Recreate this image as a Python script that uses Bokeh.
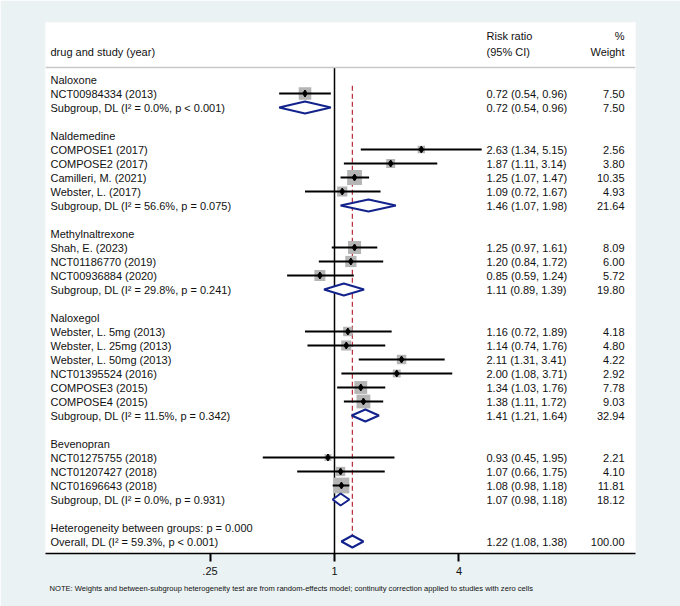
import math
from bokeh.plotting import figure
from bokeh.models import Range1d, Span, Title, FixedTicker, ColumnDataSource
from bokeh.embed import file_html
from bokeh.resources import INLINE
from bokeh.core.properties import value

# ---------------- data ----------------
groups = ["Naloxone", "Naldemedine", "Methylnaltrexone", "Naloxegol", "Bevenopran"]

study_group = [0, 1, 1, 1, 1, 2, 2, 2, 3, 3, 3, 3, 3, 3, 4, 4, 4]
study_names = [
    "NCT00984334 (2013)",
    "COMPOSE1 (2017)", "COMPOSE2 (2017)", "Camilleri, M. (2021)", "Webster, L. (2017)",
    "Shah, E. (2023)", "NCT01186770 (2019)", "NCT00936884 (2020)",
    "Webster, L. 5mg (2013)", "Webster, L. 25mg (2013)", "Webster, L. 50mg (2013)",
    "NCT01395524 (2016)", "COMPOSE3 (2015)", "COMPOSE4 (2015)",
    "NCT01275755 (2018)", "NCT01207427 (2018)", "NCT01696643 (2018)",
]
study_rr = [0.72, 2.63, 1.87, 1.25, 1.09, 1.25, 1.20, 0.85, 1.16, 1.14, 2.11, 2.00, 1.34, 1.38, 0.93, 1.07, 1.08]
study_lo = [0.54, 1.34, 1.11, 1.07, 0.72, 0.97, 0.84, 0.59, 0.72, 0.74, 1.31, 1.08, 1.03, 1.11, 0.45, 0.66, 0.98]
study_hi = [0.96, 5.15, 3.14, 1.47, 1.67, 1.61, 1.72, 1.24, 1.89, 1.76, 3.41, 3.71, 1.76, 1.72, 1.95, 1.75, 1.18]
study_w = [7.50, 2.56, 3.80, 10.35, 4.93, 8.09, 6.00, 5.72, 4.18, 4.80, 4.22, 2.92, 7.78, 9.03, 2.21, 4.10, 11.81]

sub_rr = [0.72, 1.46, 1.11, 1.41, 1.07]
sub_lo = [0.54, 1.07, 0.89, 1.21, 0.98]
sub_hi = [0.96, 1.98, 1.39, 1.64, 1.18]
sub_w = [7.50, 21.64, 19.80, 32.94, 18.12]
sub_i2 = [0.0, 56.6, 29.8, 11.5, 0.0]
sub_p = ["< 0.001", "= 0.075", "= 0.241", "= 0.342", "= 0.931"]

overall_rr, overall_lo, overall_hi, overall_w = 1.22, 1.08, 1.38, 100.00
overall_i2, overall_p = 59.3, "< 0.001"
between_p = "0.000"

ticks = [0.25, 1, 4]
tick_labels = [".25", "1", "4"]

note = ("NOTE: Weights and between-subgroup heterogeneity test are from random-effects model; "
        "continuity correction applied to studies with zero cells")

# ---------------- layout helpers ----------------
W, H = 680, 606
FL, FR, FT, FB = 45, 635, 22, 553
PX_NULL, PX_PER_LN = 334.0, 89.8
ROW0, ROWH = 79.0, 14.0


def xpx(px):
    return math.exp((px - PX_NULL) / PX_PER_LN)


def ypx(py):
    return (py - ROW0) / ROWH


FONT = "Liberation Sans"
FS = "11px"
TXT = "#111111"
BOX = "#b5b5b5"
NAVY = "#13238c"
RED = "#b8283a"

# ---------------- build rows ----------------
left_txt, left_y = [], []
rr_txt, w_txt, col_y = [], [], []
st_x, st_lo, st_hi, st_y, st_size = [], [], [], [], []
dia_xs, dia_ys = [], []
HD = 6.0 / ROWH

r = 0
for g, gname in enumerate(groups):
    left_txt.append(gname); left_y.append(r); r += 1
    for i, sg in enumerate(study_group):
        if sg != g:
            continue
        left_txt.append(study_names[i]); left_y.append(r)
        rr_txt.append(f"{study_rr[i]:.2f} ({study_lo[i]:.2f}, {study_hi[i]:.2f})")
        w_txt.append(f"{study_w[i]:.2f}"); col_y.append(r)
        st_x.append(study_rr[i]); st_lo.append(study_lo[i]); st_hi.append(study_hi[i])
        st_y.append(r); st_size.append(4.6 * math.sqrt(study_w[i]))
        r += 1
    left_txt.append(f"Subgroup, DL (I\u00b2 = {sub_i2[g]:.1f}%, p {sub_p[g]})"); left_y.append(r)
    rr_txt.append(f"{sub_rr[g]:.2f} ({sub_lo[g]:.2f}, {sub_hi[g]:.2f})")
    w_txt.append(f"{sub_w[g]:.2f}"); col_y.append(r)
    dia_xs.append([sub_lo[g], sub_rr[g], sub_hi[g], sub_rr[g]])
    dia_ys.append([r, r - HD, r, r + HD])
    r += 2

left_txt.append(f"Heterogeneity between groups: p = {between_p}"); left_y.append(r); r += 1
left_txt.append(f"Overall, DL (I\u00b2 = {overall_i2:.1f}%, p {overall_p})"); left_y.append(r)
rr_txt.append(f"{overall_rr:.2f} ({overall_lo:.2f}, {overall_hi:.2f})")
w_txt.append(f"{overall_w:.2f}"); col_y.append(r)
dia_xs.append([overall_lo, overall_rr, overall_hi, overall_rr])
dia_ys.append([r, r - HD, r, r + HD])
overall_row = r

# ---------------- figure ----------------
p = figure(width=W, height=H, x_axis_type="log",
           x_range=Range1d(xpx(FL), xpx(FR)), y_range=Range1d(ypx(FB), ypx(FT)),
           output_backend="svg", toolbar_location=None,
           min_border_left=FL, min_border_right=W - FR,
           min_border_top=FT, min_border_bottom=H - FB,
           y_axis_location=None)
p.background_fill_color = "white"
p.border_fill_color = "#EAF2F3"
p.outline_line_color = None
p.grid.visible = False

ax = p.xaxis[0]
ax.ticker = FixedTicker(ticks=ticks)
ax.major_label_overrides = {t: l for t, l in zip(ticks, tick_labels)}
ax.minor_tick_line_color = None
ax.major_tick_in = 0
ax.major_tick_out = 8
ax.major_tick_line_width = 2
ax.major_tick_line_color = "black"
ax.axis_line_width = 1.6
ax.axis_line_color = "black"
ax.major_label_text_font = FONT
ax.major_label_text_font_size = FS
ax.major_label_text_color = TXT
ax.major_label_standoff = 5

# footnote below the axis
p.add_layout(Title(text=note, align="left", offset=4, standoff=8,
                   text_font=FONT, text_font_size="7.6px", text_font_style="normal",
                   text_color=TXT), "below")

# header line
p.add_layout(Span(location=ypx(67), dimension="width", line_color="#c8c8c8", line_width=1.5))

# null line
p.segment(x0=[1], y0=[ypx(67)], x1=[1], y1=[ypx(FB)], line_color="black", line_width=1.5)
# overall dashed line
p.segment(x0=[overall_rr], y0=[0.45], x1=[overall_rr], y1=[overall_row - HD],
          line_color=RED, line_width=1.2, line_dash="5 3")

# study boxes, CIs, points
src = ColumnDataSource(dict(x=st_x, lo=st_lo, hi=st_hi, y=st_y, s=st_size))
p.rect(x="x", y="y", width="s", height="s", width_units="screen", height_units="screen",
       source=src, fill_color=BOX, line_color=None)
p.segment(x0="lo", y0="y", x1="hi", y1="y", source=src, line_color="black", line_width=2)
p.scatter(x="x", y="y", source=src, marker="diamond", size=7, fill_color="black", line_color="black")

# diamonds
p.patches(xs=dia_xs, ys=dia_ys, fill_color="white", line_color=NAVY, line_width=2)

# text columns
p.text(x=[xpx(50)] * len(left_txt), y=left_y, text=left_txt, text_font=value(FONT),
       text_font_size=FS, text_color=TXT, text_baseline="middle", text_align="left")
p.text(x=[xpx(486)] * len(rr_txt), y=col_y, text=rr_txt, text_font=value(FONT),
       text_font_size=FS, text_color=TXT, text_baseline="middle", text_align="left")
p.text(x=[xpx(624)] * len(w_txt), y=col_y, text=w_txt, text_font=value(FONT),
       text_font_size=FS, text_color=TXT, text_baseline="middle", text_align="right")

# headers
p.text(x=[xpx(50)], y=[ypx(51)], text=["drug and study (year)"], text_font=value(FONT),
       text_font_size=FS, text_color=TXT, text_baseline="middle", text_align="left")
p.text(x=[xpx(486), xpx(486)], y=[ypx(35), ypx(51)], text=["Risk ratio", "(95% CI)"],
       text_font=value(FONT), text_font_size=FS, text_color=TXT,
       text_baseline="middle", text_align="left")
p.text(x=[xpx(624), xpx(624)], y=[ypx(35), ypx(51)], text=["%", "Weight"],
       text_font=value(FONT), text_font_size=FS, text_color=TXT,
       text_baseline="middle", text_align="right")

open("out.html", "w").write(file_html(p, INLINE))
